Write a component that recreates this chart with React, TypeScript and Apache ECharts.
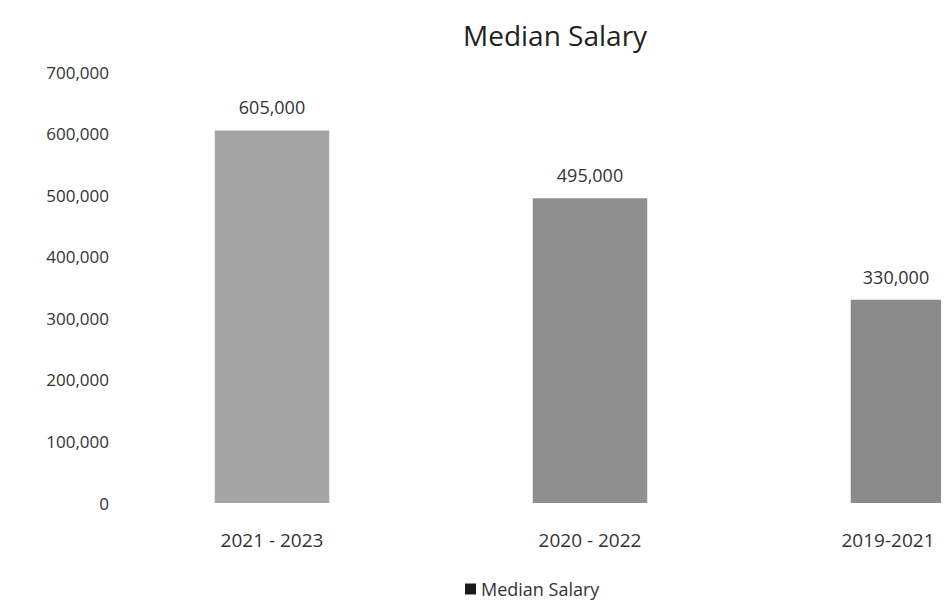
import React, { useEffect, useRef } from "react";
import * as echarts from "echarts";

const categories = ["2021 - 2023", "2020 - 2022", "2019-2021"];
const medianSalary = [605000, 495000, 330000];
const yTicks = [0, 100000, 200000, 300000, 400000, 500000, 600000, 700000];

const barColors = ["#a4a4a4", "#8f8f8f", "#8a8a8a"];
const fontFamily = "'Open Sans', 'Liberation Sans', sans-serif";
const fmt = (v: number) => v.toLocaleString("en-US");

export default function App() {
  const ref = useRef<HTMLDivElement>(null);
  useEffect(() => {
    if (!ref.current) return;
    const chart = echarts.init(ref.current, undefined, { renderer: "svg" });
    const lastIdx = categories.length - 1;
    chart.setOption({
      animation: false,
      backgroundColor: "#ffffff",
      title: {
        text: "Median Salary",
        left: 450,
        top: 8,
        textStyle: { fontFamily, fontSize: 28, fontWeight: "normal", color: "#222" },
      },
      legend: {
        data: ["Median Salary"],
        left: 452,
        top: 567,
        icon: "rect",
        itemWidth: 11,
        itemHeight: 11,
        itemGap: 4,
        itemStyle: { color: "#1a1a1a" },
        textStyle: { fontFamily, fontSize: 18, color: "#333" },
      },
      grid: { left: 105, width: 954, top: 64, height: 431, containLabel: false },
      xAxis: {
        type: "category",
        data: categories,
        axisLine: { show: false },
        axisTick: { show: false },
        axisLabel: {
          fontFamily,
          fontSize: 19,
          color: "#333",
          margin: 27,
          formatter: (v: string, i: number) => (i === lastIdx ? `{last|${v}}` : `{n|${v}}`),
          rich: {
            n: { fontFamily, fontSize: 19, color: "#333" },
            last: { fontFamily, fontSize: 19, color: "#333", padding: [0, 40, 0, 0] },
          },
        },
      },
      yAxis: {
        type: "value",
        min: yTicks[0],
        max: yTicks[yTicks.length - 1],
        interval: 100000,
        splitLine: { show: false },
        axisLine: { show: false },
        axisTick: { show: false },
        axisLabel: {
          fontFamily,
          fontSize: 17,
          color: "#333",
          margin: 4,
          formatter: (v: number) => fmt(v),
        },
      },
      series: [
        {
          name: "Median Salary",
          type: "bar",
          barWidth: "36%",
          data: medianSalary.map((v, i) => ({
            value: v,
            itemStyle: { color: barColors[i] },
            label: i === lastIdx ? { offset: [-12, 0] } : undefined,
          })),
          itemStyle: { color: "#1a1a1a" },
          label: {
            show: true,
            position: "top",
            distance: 14,
            fontFamily,
            fontSize: 18,
            color: "#333",
            formatter: (p: any) => fmt(p.value),
          },
        },
      ],
    });
    return () => chart.dispose();
  }, []);
  return (
    <div style={{ width: 941, height: 594, overflow: "hidden", position: "relative" }}>
      <div ref={ref} style={{ width: 1110, height: 594 }} />
    </div>
  );
}
